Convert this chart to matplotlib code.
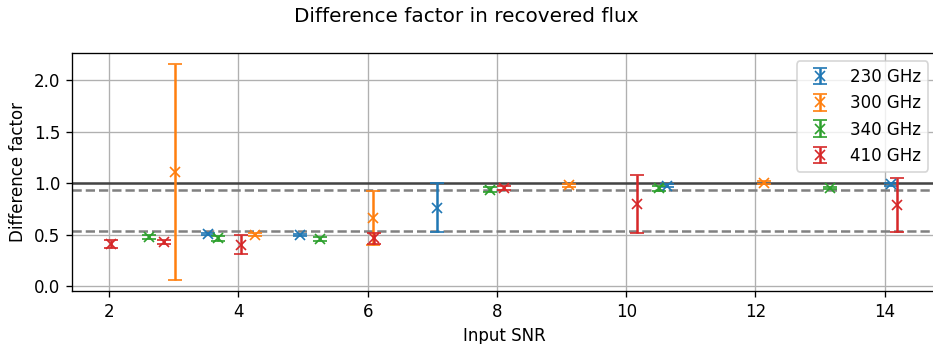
import matplotlib.pyplot as plt

# input SNR, difference factor and its uncertainty per frequency band
snr_230 = [3.53, 4.96, 7.07, 10.63, 14.10]
fac_230 = [0.51, 0.50, 0.763, 0.975, 0.99]
err_230 = [0.012, 0.012, 0.24, 0.015, 0.012]

snr_300 = [3.02, 4.26, 6.08, 9.11, 12.13]
fac_300 = [1.11, 0.503, 0.666, 0.98, 1.007]
err_300 = [1.05, 0.012, 0.26, 0.015, 0.015]

snr_340 = [2.62, 3.69, 5.26, 7.90, 10.51, 13.16]
fac_340 = [0.477, 0.465, 0.46, 0.94, 0.952, 0.958]
err_340 = [0.02, 0.02, 0.02, 0.02, 0.025, 0.01]

snr_410 = [2.03, 2.85, 4.04, 6.10, 8.11, 10.17, 14.19]
fac_410 = [0.41, 0.43, 0.406, 0.465, 0.958, 0.796, 0.79]
err_410 = [0.04, 0.02, 0.095, 0.055, 0.02, 0.28, 0.265]

bands = [
    ("230 GHz", snr_230, fac_230, err_230),
    ("300 GHz", snr_300, fac_300, err_300),
    ("340 GHz", snr_340, fac_340, err_340),
    ("410 GHz", snr_410, fac_410, err_410),
]

# reference levels
unity = 1.0
upper_mean = 0.94
lower_mean = 0.535

fig, ax = plt.subplots(figsize=(7.775, 2.867), dpi=120)
# right edge runs slightly past the canvas
fig.subplots_adjust(left=0.077, right=1.0035, bottom=0.154, top=0.846)

for label, x, y, e in bands:
    ax.errorbar(x, y, yerr=e, fmt="x", capsize=4, label=label)

ax.axhline(unity, color="#444444", linewidth=1.5, zorder=1)
ax.axhline(upper_mean, color="grey", linestyle="--", linewidth=1.5, zorder=1)
ax.axhline(lower_mean, color="grey", linestyle="--", linewidth=1.5, zorder=1)

ax.set_xticks([2, 4, 6, 8, 10, 12, 14])
ax.grid(True)
ax.set_axisbelow(True)
ax.set_xlabel("Input SNR")
ax.set_ylabel("Difference factor")
ax.legend(loc="upper right")
fig.suptitle("Difference factor in recovered flux")

fig.savefig("out.png")
